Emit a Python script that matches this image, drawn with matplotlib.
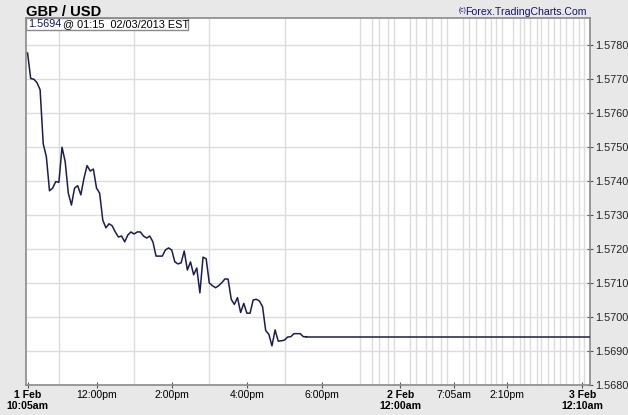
import matplotlib
matplotlib.use("Agg")
import matplotlib.pyplot as plt
import matplotlib.patches as mpatches
import numpy as np

plt.rcParams['font.family'] = ['Liberation Sans', 'DejaVu Sans']

# 5-minute closes, slot 1 = 1 Feb 10:05am
prices = [
    1.57776, 1.57701, 1.57699, 1.57689, 1.57668, 1.57509, 1.57471, 1.57371, 1.57379, 1.57398,
    1.57396, 1.57499, 1.57457, 1.57364, 1.57329, 1.57379, 1.57386, 1.57359, 1.57408, 1.57445,
    1.57429, 1.57435, 1.57379, 1.57364,
    1.57285, 1.57262, 1.57274, 1.57268, 1.57250, 1.57235, 1.57238, 1.57221, 1.57241, 1.57250,
    1.57244, 1.57250, 1.57250, 1.57238, 1.57232, 1.57238, 1.57221, 1.57179, 1.57179, 1.57179,
    1.57197, 1.57203, 1.57197, 1.57162, 1.57156, 1.57159, 1.57194, 1.57138, 1.57162, 1.57124,
    1.57144,
    1.57071, 1.57176, 1.57171, 1.57100, 1.57092, 1.57086, 1.57092, 1.57101, 1.57112, 1.57111,
    1.57052, 1.57037, 1.57057, 1.57013, 1.57040, 1.57011, 1.57011, 1.57050, 1.57052, 1.57047,
    1.57030, 1.56960, 1.56949, 1.56915, 1.56962, 1.56929, 1.56930, 1.56932, 1.56941, 1.56942,
    1.56951, 1.56951, 1.56951, 1.56942, 1.56942,
]
first_slot = 1

tick_pos = [1, 23, 47, 71, 95, 120, 137, 154, 178]
tick_labels = ["1 Feb\n10:05am", "12:00pm", "2:00pm", "4:00pm", "6:00pm",
               "2 Feb\n12:00am", "7:05am", "2:10pm", "3 Feb\n12:10am"]
tick_bold = [True, False, False, False, False, True, False, False, True]

grid_pos = [11, 23, 35, 47, 59, 71, 83, 95, 107, 111, 113, 116, 118, 120, 123, 125, 128,
            130, 133, 135, 137, 140, 142, 144, 147, 149, 150.5, 152.5, 154, 156, 158, 159.5,
            161.5, 163.5, 165, 167, 169, 171, 173, 175, 177, 178.5]

y_ticks = [1.5680, 1.5690, 1.5700, 1.5710, 1.5720, 1.5730, 1.5740, 1.5750, 1.5760, 1.5770, 1.5780]
x_range = (0.5, 180.5)
y_range = (1.5680, 1.57879)

last_price_label = "1.5694"
stamp = "@ 01:15  02/03/2013 EST"

W, H = 628, 415
fig = plt.figure(figsize=(W / 100, H / 100), dpi=100)
fig.patch.set_facecolor('#e8e8e8')
ax = fig.add_axes([26 / W, 1 - 385 / H, (590 - 26) / W, (385 - 18) / H])
ax.set_facecolor('white')

line_color = '#1c1c50'
x = np.arange(len(prices)) + first_slot
ax.plot(x, prices, color=line_color, lw=1.1, zorder=3)
ax.plot([x[-1], x_range[1]], [prices[-1], prices[-1]], color=line_color, lw=1.1, zorder=3)

ax.set_xlim(*x_range)
ax.set_ylim(*y_range)

ax.set_xticks(tick_pos)
ax.set_xticklabels(tick_labels)
for lab, b in zip(ax.get_xticklabels(), tick_bold):
    lab.set_fontweight('bold' if b else 'normal')
    lab.set_fontsize(7.6)
ax.set_xticks(grid_pos, minor=True)
ax.tick_params(axis='x', which='major', direction='inout', length=5, color='#555555',
               pad=1, labelcolor='black')
ax.tick_params(axis='x', which='minor', length=0)

ax.yaxis.tick_right()
ax.set_yticks(y_ticks)
ax.set_yticklabels([f"{v:.4f}" for v in y_ticks])
ax.tick_params(axis='y', direction='inout', length=5, color='#555555', pad=1,
               labelsize=7.8, labelcolor='#222222')

ax.grid(which='minor', axis='x', color='#dcdcdc', lw=1)
ax.grid(which='major', axis='y', color='#dcdcdc', lw=1)
ax.set_axisbelow(True)
for s in ax.spines.values():
    s.set_color('#8a8a8a')
    s.set_linewidth(1.2)

fig.text(26 / W, 1 - 12 / H, "GBP / USD", fontsize=10.6, fontweight='bold',
         va='center', ha='left', color='black')
fig.text(587 / W, 1 - 12 / H, "Forex.TradingCharts.Com", fontsize=7.6,
         va='center', ha='right', color='#14146e')
fig.text(466 / W, 1 - 10 / H, "(c)", fontsize=4.8, va='center', ha='right', color='#14146e')

# info box
box = mpatches.Rectangle((26 / W, 1 - 30 / H), (188 - 26) / W, 12 / H,
                         transform=fig.transFigure, facecolor='white',
                         edgecolor='#8a8a8a', lw=1, zorder=5)
fig.patches.append(box)
fig.text(28 / W, 1 - 24 / H, last_price_label, fontsize=7.8, color='#14146e',
         va='center', ha='left', zorder=6)
fig.text(63 / W, 1 - 24 / H, stamp, fontsize=7.8, color='black',
         va='center', ha='left', zorder=6)

fig.savefig("out.png", dpi=100, facecolor=fig.get_facecolor())
